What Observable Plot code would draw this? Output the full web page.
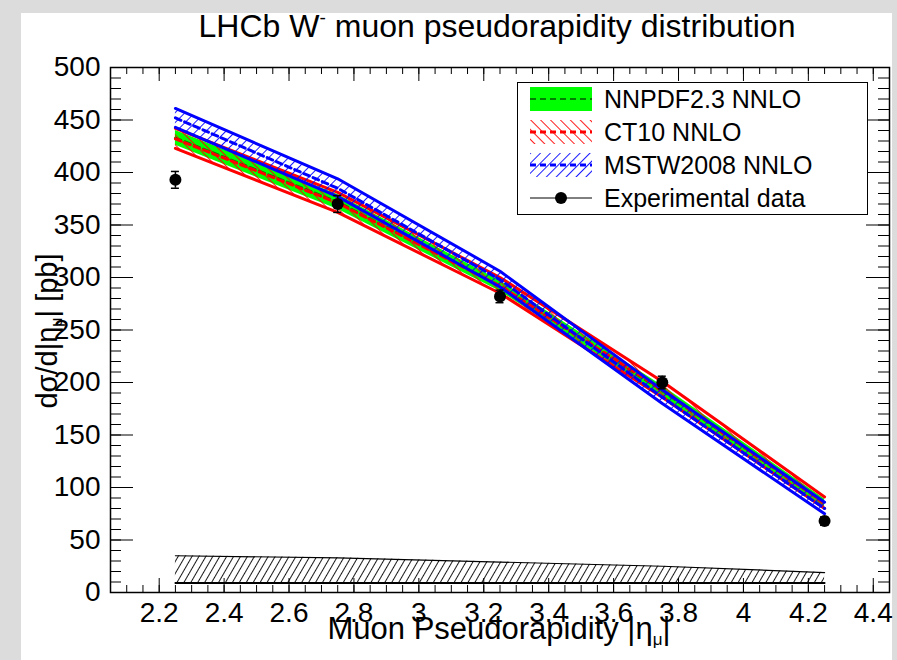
<!DOCTYPE html>
<html>
<head>
<meta charset="utf-8">
<script src="https://cdn.jsdelivr.net/npm/d3@7"></script>
<script src="https://cdn.jsdelivr.net/npm/@observablehq/plot@0.6"></script>
<style>
  body { margin: 0; }
  #wrap { position: relative; width: 897px; height: 660px; overflow: hidden;
          background: #dcdcdc; font-family: "Liberation Sans", Arial, Helvetica, sans-serif; color: #000; }
  #panel { position: absolute; left: 21px; top: 13px; width: 871px; height: 647px; background: #fff; }
  #chart { position: absolute; left: 0; top: 0; }
  .ttl { position: absolute; white-space: nowrap; line-height: 1; }
  #title { left: 497px; top: 10px; font-size: 32px; transform: translateX(-50%); }
  #xtitle { left: 499px; top: 616px; font-size: 31px; line-height: 26px; transform: translateX(-50%); }
  #ytitle { left: 47px; top: 331px; font-size: 29px; transform: translate(-50%, -50%) rotate(-90deg); }
  sub.s { font-size: 0.55em; vertical-align: -0.35em; line-height: 0; }
  sup.s { font-size: 0.6em; vertical-align: 0.7em; line-height: 0; }
  #legend { position: absolute; left: 517px; top: 82px; width: 351px; height: 133px; box-sizing: border-box;
            border: 1.5px solid #000; background: #fff; }
  .row { position: absolute; left: 0; height: 24px; width: 100%; }
  .row svg { position: absolute; left: 12px; top: 0; }
  .row span { position: absolute; left: 86px; top: 0; font-size: 25px; line-height: 24px; }
</style>
</head>
<body>
<svg width="0" height="0" style="position:absolute">
  <defs>
    <pattern id="hatchRed" patternUnits="userSpaceOnUse" width="7" height="7" patternTransform="rotate(-45)">
      <line x1="0.5" y1="0" x2="0.5" y2="7" stroke="#ff0000" stroke-width="0.9"/>
    </pattern>
    <pattern id="hatchBlue" patternUnits="userSpaceOnUse" width="7" height="7" patternTransform="rotate(45)">
      <line x1="0.5" y1="0" x2="0.5" y2="7" stroke="#0000ff" stroke-width="0.9"/>
    </pattern>
    <pattern id="hatchBlack" patternUnits="userSpaceOnUse" width="6" height="6" patternTransform="rotate(30)">
      <line x1="0.5" y1="0" x2="0.5" y2="6" stroke="#000" stroke-width="0.9"/>
    </pattern>
  </defs>
</svg>
<div id="wrap">
  <div id="panel"></div>
  <div id="chart"></div>
  <div id="title" class="ttl">LHCb W<sup class="s">-</sup> muon pseudorapidity distribution</div>
  <div id="xtitle" class="ttl">Muon Pseudorapidity |η<sub class="s">μ</sub>|</div>
  <div id="ytitle" class="ttl">dσ/d|η<sub class="s">μ</sub>| [pb]</div>
  <div id="legend">
    <div class="row" style="top:4px"><svg width="62" height="24"><rect width="62" height="24" fill="#00ff00"/><line x1="0" x2="62" y1="12" y2="12" stroke="#008000" stroke-width="2" stroke-dasharray="6,4"/></svg><span>NNPDF2.3 NNLO</span></div>
    <div class="row" style="top:37px"><svg width="62" height="24"><rect width="62" height="24" fill="url(#hatchRed)"/><line x1="0" x2="62" y1="12" y2="12" stroke="#ff0000" stroke-width="3" stroke-dasharray="6,4"/></svg><span>CT10 NNLO</span></div>
    <div class="row" style="top:70px"><svg width="62" height="24"><rect width="62" height="24" fill="url(#hatchBlue)"/><line x1="0" x2="62" y1="12" y2="12" stroke="#0000ff" stroke-width="3" stroke-dasharray="6,4"/></svg><span>MSTW2008 NNLO</span></div>
    <div class="row" style="top:103px"><svg width="62" height="24"><line x1="0" x2="62" y1="12" y2="12" stroke="#000" stroke-width="1"/><circle cx="31" cy="12" r="6" fill="#000"/></svg><span>Experimental data</span></div>
  </div>
</div>
<script>
// ---- data ----
const eta = [2.25, 2.75, 3.25, 3.75, 4.25];

const nnpdfCentral = [433, 372, 292, 192, 85];
const nnpdfLow     = [426, 365, 287, 187, 81];
const nnpdfHigh    = [440, 379, 297, 197, 89];

const ct10Central  = [432, 371, 292, 193, 85];
const ct10Low      = [423, 362, 285, 186, 80];
const ct10High     = [442, 381, 300, 201, 91];

const mstwCentral  = [452, 385, 298, 186, 80];
const mstwLow      = [443, 377, 291, 180, 75];
const mstwHigh     = [461, 394, 306, 193, 86];

const dataValue    = [393, 370, 282, 200, 68];
const dataError    = [8, 8, 6, 6, 4];

const systLow      = [9, 9, 9, 9, 9];
const systHigh     = [35, 33, 29, 25, 19];

const xMajorTicks  = [2.2, 2.4, 2.6, 2.8, 3.0, 3.2, 3.4, 3.6, 3.8, 4.0, 4.2, 4.4];
const xTickLabels  = ["2.2", "2.4", "2.6", "2.8", "3", "3.2", "3.4", "3.6", "3.8", "4", "4.2", "4.4"];
const yMajorTicks  = [0, 50, 100, 150, 200, 250, 300, 350, 400, 450, 500];
const yTickLabels  = ["0", "50", "100", "150", "200", "250", "300", "350", "400", "450", "500"];

// ---- build table ----
const rows = eta.map((x, i) => ({
  x,
  nC: nnpdfCentral[i], nLo: nnpdfLow[i], nHi: nnpdfHigh[i],
  cC: ct10Central[i], cLo: ct10Low[i], cHi: ct10High[i],
  mC: mstwCentral[i], mLo: mstwLow[i], mHi: mstwHigh[i],
  d: dataValue[i], e: dataError[i],
  sLo: systLow[i], sHi: systHigh[i]
}));

const xMinorTicks = d3.range(0, 49).map(i => +(2.05 + i * 0.05).toFixed(2));
const yMinorTicks = d3.range(0, 51).map(i => i * 10);

const W = 897, H = 660, mL = 110, mR = 8, mT = 67, mB = 68;
const fw = W - mL - mR, fh = H - mT - mB;

const xMajLen = 14, xMinLen = 7, yMajLen = 23, yMinLen = 11;

const chart = Plot.plot({
  width: W, height: H,
  marginLeft: mL, marginRight: mR, marginTop: mT, marginBottom: mB,
  x: {domain: [2.05, 4.45], label: null},
  y: {domain: [0, 500], label: null},
  style: {background: "transparent", fontFamily: "'Liberation Sans', Arial, sans-serif", color: "black", overflow: "visible"},
  marks: [
    // NNPDF band
    Plot.areaY(rows, {x: "x", y1: "nLo", y2: "nHi", fill: "#00ff00"}),
    Plot.lineY(rows, {x: "x", y: "nC", stroke: "#008000", strokeWidth: 2.5, strokeDasharray: "6,4"}),
    // CT10 band
    Plot.areaY(rows, {x: "x", y1: "cLo", y2: "cHi", fill: "url(#hatchRed)"}),
    Plot.lineY(rows, {x: "x", y: "cLo", stroke: "#ff0000", strokeWidth: 3}),
    Plot.lineY(rows, {x: "x", y: "cHi", stroke: "#ff0000", strokeWidth: 3}),
    Plot.lineY(rows, {x: "x", y: "cC", stroke: "#ff0000", strokeWidth: 3, strokeDasharray: "6,4"}),
    // MSTW band
    Plot.areaY(rows, {x: "x", y1: "mLo", y2: "mHi", fill: "url(#hatchBlue)"}),
    Plot.lineY(rows, {x: "x", y: "mLo", stroke: "#0000ff", strokeWidth: 3}),
    Plot.lineY(rows, {x: "x", y: "mHi", stroke: "#0000ff", strokeWidth: 3}),
    Plot.lineY(rows, {x: "x", y: "mC", stroke: "#0000ff", strokeWidth: 3, strokeDasharray: "6,4"}),
    // systematic band
    Plot.areaY(rows, {x: "x", y1: "sLo", y2: "sHi", fill: "url(#hatchBlack)"}),
    Plot.lineY(rows, {x: "x", y: "sLo", stroke: "black", strokeWidth: 2}),
    Plot.lineY(rows, {x: "x", y: "sHi", stroke: "black", strokeWidth: 1.2}),
    // experimental data
    Plot.ruleX(rows, {x: "x", y1: d => d.d - d.e, y2: d => d.d + d.e, stroke: "black", strokeWidth: 1.5}),
    Plot.ruleY(rows, {y: d => d.d + d.e, x1: "x", x2: "x", insetLeft: -4, insetRight: -4, stroke: "black", strokeWidth: 1.5}),
    Plot.ruleY(rows, {y: d => d.d - d.e, x1: "x", x2: "x", insetLeft: -4, insetRight: -4, stroke: "black", strokeWidth: 1.5}),
    Plot.dot(rows, {x: "x", y: "d", r: 6, fill: "black"}),
    // inward ticks
    Plot.tickX(xMinorTicks, {x: d => d, insetTop: fh - xMinLen, stroke: "black"}),
    Plot.tickX(xMajorTicks, {x: d => d, insetTop: fh - xMajLen, stroke: "black"}),
    Plot.tickX(xMinorTicks, {x: d => d, insetBottom: fh - xMinLen, stroke: "black"}),
    Plot.tickX(xMajorTicks, {x: d => d, insetBottom: fh - xMajLen, stroke: "black"}),
    Plot.tickY(yMinorTicks, {y: d => d, insetRight: fw - yMinLen, stroke: "black"}),
    Plot.tickY(yMajorTicks, {y: d => d, insetRight: fw - yMajLen, stroke: "black"}),
    Plot.tickY(yMinorTicks, {y: d => d, insetLeft: fw - yMinLen, stroke: "black"}),
    Plot.tickY(yMajorTicks, {y: d => d, insetLeft: fw - yMajLen, stroke: "black"}),
    Plot.frame({stroke: "black", strokeWidth: 1.5}),
    // tick labels
    Plot.axisX({ticks: xMajorTicks, tickFormat: d => xTickLabels[xMajorTicks.indexOf(d)], tickSize: 0, tickPadding: 10, fontSize: 28, label: null}),
    Plot.axisY({ticks: yMajorTicks, tickFormat: d => yTickLabels[yMajorTicks.indexOf(d)], tickSize: 0, tickPadding: 10, fontSize: 28, label: null})
  ]
});
document.getElementById("chart").appendChild(chart);
</script>
</body>
</html>
